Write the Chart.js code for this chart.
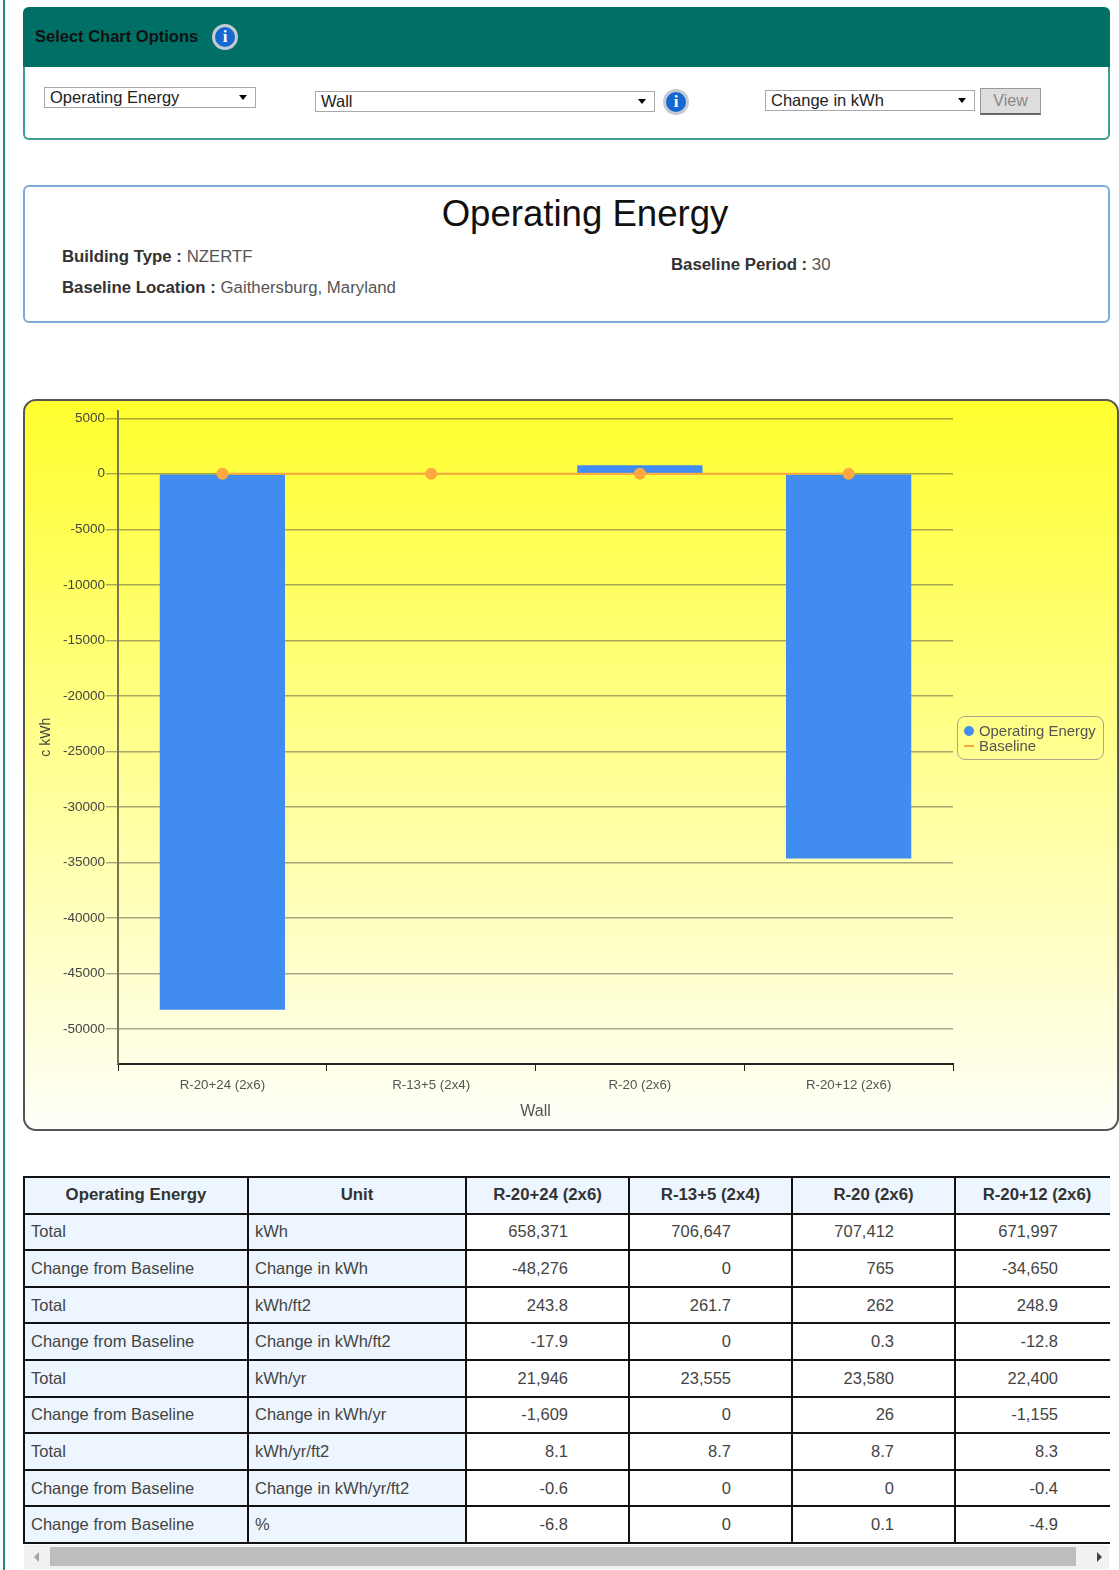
<!DOCTYPE html>
<html>
<head>
<meta charset="utf-8">
<title>Operating Energy</title>
<script src="https://cdn.jsdelivr.net/npm/chart.js@4"></script>
<style>
  html, body { margin: 0; padding: 0; background: #fff; }
  body { position: relative; width: 1119px; height: 1570px; overflow: hidden; font-family: "Liberation Sans", Arial, sans-serif; color: #333; }
  .abs { position: absolute; box-sizing: border-box; }
  .rail { left: 3px; top: 0; width: 2px; height: 1570px; background: #26897f; }
  .options { left: 23px; top: 7px; width: 1087px; height: 133px; border: 2px solid #3f9e92; border-top: 0; border-radius: 6px; }
  .options-head { left: 23px; top: 7px; width: 1087px; height: 60px; background: #007066; border-radius: 6px 6px 0 0; color: #111; font-size: 16.5px; font-weight: bold; line-height: 59px; padding-left: 12px; }
  .info { width: 26px; height: 26px; border-radius: 50%; background: #1668d0; border: 3px solid #c3cad3; color: #fff; font: bold 17px/20px "Liberation Serif", serif; text-align: center; }
  .select { height: 21px; background: #fff; border: 1px solid #a9a9a9; font-size: 16.5px; line-height: 19px; padding-left: 5px; color: #222; }
  .select::after { content: ""; position: absolute; right: 8px; top: 7px; border: 4px solid transparent; border-top: 5px solid #000; border-bottom: 0; }
  .view { left: 980px; top: 88px; width: 61px; height: 27px; background: #ddd; border: 1px solid #999; border-bottom: 2px solid #666; color: #888; font-size: 16px; line-height: 24px; text-align: center; }
  .summary { left: 23px; top: 185px; width: 1087px; height: 138px; border: 2px solid #7cabd8; border-radius: 6px; }
  .summary-title { left: 24px; top: 192px; width: 1122px; text-align: center; font-size: 36.6px; line-height: 44px; color: #111; }
  .fact { font-size: 16.8px; line-height: 20px; white-space: nowrap; }
  .fact b { color: #333; }
  .fact span { color: #555; }
  .chart-box { left: 23px; top: 399px; width: 1096px; height: 732px; border: 2px solid #555; border-radius: 13px; background: linear-gradient(#ffff2e, #fffffa); overflow: hidden; }
  #energyChart { position: absolute; left: -1px; top: -2px; }
  .legend { left: 957px; top: 716px; width: 147px; height: 44px; border: 1px solid #a8a68a; border-radius: 8px; font-size: 14.9px; line-height: 15px; color: #555; padding: 7px 0 0 21px; white-space: nowrap; }
  .legend .dot { position: absolute; left: 6px; top: 9px; width: 10px; height: 10px; border-radius: 50%; background: #418cf0; }
  .legend .dash { position: absolute; left: 6px; top: 28px; width: 10px; height: 2px; background: #ffa83f; }
  .table-wrap { left: 23px; top: 1176px; width: 1087px; height: 368px; overflow: hidden; }
  table { border-collapse: collapse; table-layout: fixed; width: 1095px; font-size: 16.5px; color: #444; }
  th, td { border: 2px solid #111; height: 36.6px; box-sizing: border-box; padding: 0; white-space: nowrap; }
  th { background: #edf6fe; font-weight: bold; text-align: center; color: #333; font-size: 16.8px; }
  td.name { background: #edf6fe; padding-left: 6px; }
  td.num { text-align: right; padding-right: 60px; }
  .scroll-track { left: 24px; top: 1545px; width: 1085px; height: 24px; background: #f1f1f1; }
  .scroll-thumb { left: 50px; top: 1547px; width: 1026px; height: 19px; background: #bdbdbd; }
  .arrow-l { left: 34px; top: 1552px; border: 5px solid transparent; border-right: 5px solid #a3a3a3; border-left: 0; }
  .arrow-r { left: 1097px; top: 1552px; border: 5px solid transparent; border-left: 5px solid #444; border-right: 0; }
</style>
</head>
<body>
<div class="abs rail"></div>

<div class="abs options"></div>
<div class="abs options-head">Select Chart Options</div>
<div class="abs info" style="left:212px;top:24px">i</div>
<div class="abs select" style="left:44px;top:87px;width:212px">Operating Energy</div>
<div class="abs select" style="left:315px;top:91px;width:340px">Wall</div>
<div class="abs info" style="left:663px;top:89px">i</div>
<div class="abs select" style="left:765px;top:90px;width:210px">Change in kWh</div>
<div class="abs view">View</div>

<div class="abs summary"></div>
<div class="abs summary-title">Operating Energy</div>
<div class="abs fact" style="left:62px;top:247px"><b>Building Type :</b> <span>NZERTF</span></div>
<div class="abs fact" style="left:62px;top:278px"><b>Baseline Location :</b> <span>Gaithersburg, Maryland</span></div>
<div class="abs fact" style="left:671px;top:255px"><b>Baseline Period :</b> <span>30</span></div>

<div class="abs chart-box"><canvas id="energyChart" width="1095" height="733"></canvas></div>
<div class="abs legend" id="legendBox"></div>

<div class="abs table-wrap"><table id="energyTable"></table></div>
<div class="abs scroll-track"></div>
<div class="abs scroll-thumb"></div>
<div class="abs arrow-l"></div>
<div class="abs arrow-r"></div>

<script>
const categories = ["R-20+24 (2x6)", "R-13+5 (2x4)", "R-20 (2x6)", "R-20+12 (2x6)"];
const operatingEnergy = [-48276, 0, 765, -34650];
const baseline = [0, 0, 0, 0];
const yTicks = [5000, 0, -5000, -10000, -15000, -20000, -25000, -30000, -35000, -40000, -45000, -50000];
const yMin = -53170;
const yMax = 5700;

const tableHead = ["Operating Energy", "Unit"];
const rowNames = ["Total", "Change from Baseline", "Total", "Change from Baseline", "Total", "Change from Baseline", "Total", "Change from Baseline", "Change from Baseline"];
const rowUnits = ["kWh", "Change in kWh", "kWh/ft2", "Change in kWh/ft2", "kWh/yr", "Change in kWh/yr", "kWh/yr/ft2", "Change in kWh/yr/ft2", "%"];
const col1 = ["658,371", "-48,276", "243.8", "-17.9", "21,946", "-1,609", "8.1", "-0.6", "-6.8"];
const col2 = ["706,647", "0", "261.7", "0", "23,555", "0", "8.7", "0", "0"];
const col3 = ["707,412", "765", "262", "0.3", "23,580", "26", "8.7", "0", "0.1"];
const col4 = ["671,997", "-34,650", "248.9", "-12.8", "22,400", "-1,155", "8.3", "-0.4", "-4.9"];
const colWidths = [224, 218, 163, 163, 163, 164];

// legend
const legendBox = document.getElementById("legendBox");
legendBox.innerHTML = '<i class="dot"></i><i class="dash"></i>Operating Energy<br>Baseline';

// table under the chart
var html = "<colgroup>";
colWidths.forEach(function (w) { html += '<col style="width:' + w + 'px">'; });
html += "</colgroup><tr>";
tableHead.concat(categories).forEach(function (h) { html += "<th>" + h + "</th>"; });
html += "</tr>";
for (var i = 0; i < rowNames.length; i++) {
  html += '<tr><td class="name">' + rowNames[i] + '</td><td class="name">' + rowUnits[i] + "</td>";
  [col1, col2, col3, col4].forEach(function (c) { html += '<td class="num">' + c[i] + "</td>"; });
  html += "</tr>";
}
document.getElementById("energyTable").innerHTML = html;

const ctx = document.getElementById("energyChart");

new Chart(ctx, {
  type: "bar",
  data: {
    labels: categories,
    datasets: [
      {
        type: "line",
        label: "Baseline",
        data: baseline,
        borderColor: "#ffa83f",
        backgroundColor: "#ffa83f",
        borderWidth: 2,
        pointRadius: 5,
        pointHoverRadius: 5,
        order: 1,
      },
      {
        label: "Operating Energy",
        data: operatingEnergy,
        backgroundColor: "#418cf0",
        barPercentage: 0.6,
        categoryPercentage: 1,
        order: 2,
      },
    ],
  },
  options: {
    responsive: false,
    animation: false,
    layout: { padding: { top: 11.5, right: 166, left: 0, bottom: 0 } },
    plugins: {
      legend: { display: false },
      tooltip: { enabled: false },
    },
    scales: {
      x: {
        afterFit: function (scale) { scale.height = 68; },
        grid: { drawOnChartArea: false, color: "#222", tickLength: 7, lineWidth: 1 },
        border: { color: "#222", width: 2 },
        ticks: { color: "#555", padding: 6, maxRotation: 0, font: { family: "Liberation Sans", size: 13.3 } },
        title: { display: true, text: "Wall", color: "#555", padding: { top: 0, bottom: 11 }, font: { family: "Liberation Sans", size: 16 } },
      },
      y: {
        min: yMin,
        max: yMax,
        afterFit: function (scale) { scale.width = 94; },
        afterBuildTicks: function (scale) {
          scale.ticks = yTicks.map(function (v) { return { value: v }; });
        },
        grid: { color: "rgba(60,60,60,0.45)", tickLength: 12, lineWidth: 1.4 },
        border: { color: "#77774f", width: 2 },
        ticks: {
          color: "#444",
          padding: 1,
          font: { family: "Liberation Sans", size: 13.5 },
          callback: function (v) { return String(v); },
        },
        title: { display: true, text: "c kWh", color: "#444", padding: { top: 14, bottom: 0 }, font: { family: "Liberation Sans", size: 14 } },
      },
    },
  },
});
</script>
</body>
</html>
